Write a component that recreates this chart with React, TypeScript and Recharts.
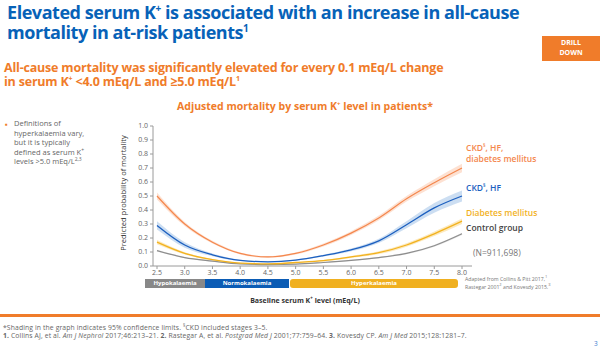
import React from "react";
import { ComposedChart, Line, Area, XAxis, YAxis } from "recharts";

// Baseline serum K+ (mEq/L)
const potassium = [2.5, 3.0, 3.5, 4.0, 4.5, 5.0, 5.5, 6.0, 6.5, 7.0, 7.5, 8.0];

// Predicted probability of mortality
const ckdHfDm = [0.5, 0.3, 0.17, 0.09, 0.065, 0.09, 0.15, 0.235, 0.343, 0.48, 0.595, 0.7];
const ckdHf = [0.29, 0.15, 0.08, 0.04, 0.03, 0.042, 0.074, 0.115, 0.18, 0.295, 0.415, 0.5];
const diabetes = [0.17, 0.09, 0.045, 0.02, 0.015, 0.025, 0.038, 0.065, 0.095, 0.15, 0.23, 0.32];
const control = [0.11, 0.06, 0.035, 0.015, 0.01, 0.013, 0.025, 0.04, 0.06, 0.09, 0.145, 0.23];

// half width of the 95% confidence shading
const ckdHfDmCi = [0.025, 0.015, 0.01, 0.007, 0.006, 0.007, 0.01, 0.013, 0.017, 0.02, 0.025, 0.03];
const ckdHfCi = [0.03, 0.02, 0.01, 0.005, 0.004, 0.005, 0.007, 0.01, 0.015, 0.025, 0.035, 0.04];
const diabetesCi = [0.015, 0.008, 0.005, 0.003, 0.003, 0.003, 0.005, 0.007, 0.01, 0.012, 0.016, 0.02];
const controlCi = [0.006, 0.004, 0.003, 0.002, 0.002, 0.002, 0.003, 0.004, 0.005, 0.006, 0.007, 0.008];

const xTicks = [2.5, 3.0, 3.5, 4.0, 4.5, 5.0, 5.5, 6.0, 6.5, 7.0, 7.5, 8.0];
const yTicks = [0, 0.1, 0.2, 0.3, 0.4, 0.5, 0.6, 0.7, 0.8, 0.9, 1.0];

const ORANGE = "#f4874d";
const BLUE = "#1c5fbf";
const YELLOW = "#f2b21f";
const GREY = "#8d8d8d";
const FONT = "'Open Sans', sans-serif";

const band = (v: number, ci: number) => [Math.max(0, v - ci), v + ci];

const data = potassium.map((k, i) => ({
  k,
  a: ckdHfDm[i],
  aBand: band(ckdHfDm[i], ckdHfDmCi[i]),
  b: ckdHf[i],
  bBand: band(ckdHf[i], ckdHfCi[i]),
  c: diabetes[i],
  cBand: band(diabetes[i], diabetesCi[i]),
  d: control[i],
  dBand: band(control[i], controlCi[i]),
}));

const abs = (s: React.CSSProperties): React.CSSProperties => ({ position: "absolute", whiteSpace: "nowrap", ...s });
const Sup = ({ size, children }: { size: number; children: React.ReactNode }) => (
  <sup style={{ fontSize: size, lineHeight: 0 }}>{children}</sup>
);

const titleStyle: React.CSSProperties = {
  left: 7,
  fontSize: 18,
  lineHeight: "19px",
  fontWeight: 700,
  color: "#0762b8",
  letterSpacing: -0.45,
};
const subStyle: React.CSSProperties = {
  left: 4,
  fontSize: 12.5,
  lineHeight: "13px",
  fontWeight: 700,
  color: "#f07c2a",
  letterSpacing: -0.2,
};
const noteStyle: React.CSSProperties = { left: 14, fontSize: 7.5, lineHeight: "9px", color: "#666" };
const footStyle: React.CSSProperties = { left: 3, fontSize: 6.8, lineHeight: "8px", color: "#666", letterSpacing: 0.12 };
const rangeStyle: React.CSSProperties = {
  top: 279,
  height: 9,
  color: "#fff",
  fontSize: 6,
  fontWeight: 700,
  lineHeight: "9px",
  textAlign: "center",
};

export default function App() {
  return (
    <div
      style={{
        position: "absolute",
        left: 0,
        top: 0,
        width: 600,
        height: 360,
        background: "#fff",
        fontFamily: FONT,
        overflow: "hidden",
      }}
    >
      {/* Title */}
      <div style={abs({ ...titleStyle, top: 3 })}>
        Elevated serum K<Sup size={10}>+</Sup> is associated with an increase in all-cause
      </div>
      <div style={abs({ ...titleStyle, top: 23 })}>
        mortality in at-risk patients<Sup size={10}>1</Sup>
      </div>

      <div
        style={abs({
          left: 542,
          top: 36,
          width: 58,
          height: 25,
          background: "#f07c2a",
          color: "#fff",
          fontSize: 7,
          fontWeight: 700,
          textAlign: "center",
          lineHeight: "10px",
          paddingTop: 2,
          boxSizing: "border-box",
          whiteSpace: "normal",
        })}
      >
        DRILL
        <br />
        DOWN
      </div>

      <div style={abs({ ...subStyle, top: 61 })}>
        All-cause mortality was significantly elevated for every 0.1 mEq/L change
      </div>
      <div style={abs({ ...subStyle, top: 75 })}>
        in serum K<Sup size={7}>+</Sup> &lt;4.0 mEq/L and ≥5.0 mEq/L<Sup size={7}>1</Sup>
      </div>

      {/* Side note */}
      <div style={abs({ left: 5, top: 118, fontSize: 8, color: "#f07c2a" })}>▪</div>
      <div style={abs({ ...noteStyle, top: 119 })}>Definitions of</div>
      <div style={abs({ ...noteStyle, top: 128.5 })}>hyperkalaemia vary,</div>
      <div style={abs({ ...noteStyle, top: 138 })}>but it is typically</div>
      <div style={abs({ ...noteStyle, top: 147.5 })}>
        defined as serum K<Sup size={5}>+</Sup>
      </div>
      <div style={abs({ ...noteStyle, top: 157 })}>
        levels &gt;5.0 mEq/L<Sup size={5}>2,3</Sup>
      </div>

      <div
        style={abs({
          left: 150,
          top: 99,
          width: 310,
          textAlign: "center",
          fontSize: 10.5,
          fontWeight: 700,
          color: "#f07c2a",
        })}
      >
        Adjusted mortality by serum K<Sup size={6}>+</Sup> level in patients*
      </div>

      <div
        style={abs({
          left: 63,
          top: 188,
          width: 120,
          textAlign: "center",
          fontSize: 7.5,
          color: "#333",
          transform: "rotate(-90deg)",
        })}
      >
        Predicted probability of mortality
      </div>

      <div style={abs({ left: 0, top: 0 })}>
        <ComposedChart width={600} height={360} data={data} margin={{ top: 126, right: 128, bottom: 74, left: 0 }}>
          <XAxis
            dataKey="k"
            type="number"
            domain={[2.5, 8]}
            ticks={xTicks}
            tickFormatter={(v: number) => v.toFixed(1)}
            padding={{ left: 4, right: 10 }}
            stroke="#9a9a9a"
            tickSize={3}
            tickMargin={1}
            tick={{ fontSize: 7, fill: "#666", fontFamily: FONT }}
            height={20}
          />
          <YAxis
            type="number"
            domain={[0, 1]}
            ticks={yTicks}
            tickFormatter={(v: number) => v.toFixed(1)}
            stroke="#9a9a9a"
            tickSize={3}
            tickMargin={2}
            tick={{ fontSize: 7, fill: "#666", fontFamily: FONT }}
            width={153}
          />
          <Area dataKey="dBand" type="monotone" stroke="none" fill="#d9d9d9" fillOpacity={0.6} isAnimationActive={false} />
          <Area dataKey="cBand" type="monotone" stroke="none" fill="#fbe3ad" fillOpacity={0.8} isAnimationActive={false} />
          <Area dataKey="bBand" type="monotone" stroke="none" fill="#c6daf1" fillOpacity={0.9} isAnimationActive={false} />
          <Area dataKey="aBand" type="monotone" stroke="none" fill="#fcdac7" fillOpacity={0.8} isAnimationActive={false} />
          <Line dataKey="d" type="monotone" stroke={GREY} strokeWidth={1.2} dot={false} isAnimationActive={false} />
          <Line dataKey="c" type="monotone" stroke={YELLOW} strokeWidth={1.3} dot={false} isAnimationActive={false} />
          <Line dataKey="b" type="monotone" stroke={BLUE} strokeWidth={1.3} dot={false} isAnimationActive={false} />
          <Line dataKey="a" type="monotone" stroke={ORANGE} strokeWidth={1.2} dot={false} isAnimationActive={false} />
        </ComposedChart>
      </div>

      {/* K+ ranges under the axis */}
      <div style={abs({ ...rangeStyle, left: 145, width: 60, background: "#888" })}>Hypokalaemia</div>
      <div style={abs({ ...rangeStyle, left: 205, width: 84, background: "#0b5cb5" })}>Normokalaemia</div>
      <div style={abs({ ...rangeStyle, left: 290, width: 168, background: "#f0b020", borderRadius: 3 })}>Hyperkalaemia</div>

      {/* Series labels */}
      <div style={abs({ left: 466, top: 143, fontSize: 8.5, lineHeight: "10px", fontWeight: 600, color: ORANGE })}>
        CKD<Sup size={5}>§</Sup>, HF,
      </div>
      <div style={abs({ left: 466, top: 154, fontSize: 8.5, lineHeight: "10px", fontWeight: 600, color: ORANGE })}>
        diabetes mellitus
      </div>
      <div style={abs({ left: 466, top: 182, fontSize: 8.5, fontWeight: 600, color: BLUE })}>
        CKD<Sup size={5}>§</Sup>, HF
      </div>
      <div style={abs({ left: 466, top: 207, fontSize: 8.5, fontWeight: 600, color: YELLOW })}>Diabetes mellitus</div>
      <div style={abs({ left: 466, top: 222, fontSize: 8.5, fontWeight: 600, color: "#444" })}>Control group</div>
      <div style={abs({ left: 473, top: 247, fontSize: 8.5, color: "#777" })}>(N=911,698)</div>
      <div style={abs({ left: 465, top: 276, fontSize: 5.2, lineHeight: "7px", color: "#777" })}>
        Adapted from Collins &amp; Pitt 2017,<Sup size={4}>1</Sup>
      </div>
      <div style={abs({ left: 465, top: 284, fontSize: 5.2, lineHeight: "7px", color: "#777" })}>
        Rastegar 2001<Sup size={4}>2</Sup> and Kovesdy 2015.<Sup size={4}>3</Sup>
      </div>

      <div style={abs({ left: 150, top: 296, width: 310, textAlign: "center", fontSize: 7, fontWeight: 700, color: "#333" })}>
        Baseline serum K<Sup size={4.5}>+</Sup> level (mEq/L)
      </div>

      <div style={abs({ left: 0, top: 313.5, width: 600, height: 3, background: "#f07c2a" })} />

      <div style={abs({ ...footStyle, top: 323.5 })}>
        *Shading in the graph indicates 95% confidence limits. <Sup size={4.5}>§</Sup>CKD included stages 3–5.
      </div>
      <div style={abs({ ...footStyle, top: 331.5 })}>
        <b>1.</b> Collins AJ, et al. <i>Am J Nephrol</i> 2017;46:213–21. <b>2.</b> Rastegar A, et al. <i>Postgrad Med J</i>{" "}
        2001;77:759–64. <b>3.</b> Kovesdy CP. <i>Am J Med</i> 2015;128:1281–7.
      </div>
      <div style={abs({ left: 594, top: 339, fontSize: 6.5, color: "#3d7fd0" })}>3</div>
    </div>
  );
}
